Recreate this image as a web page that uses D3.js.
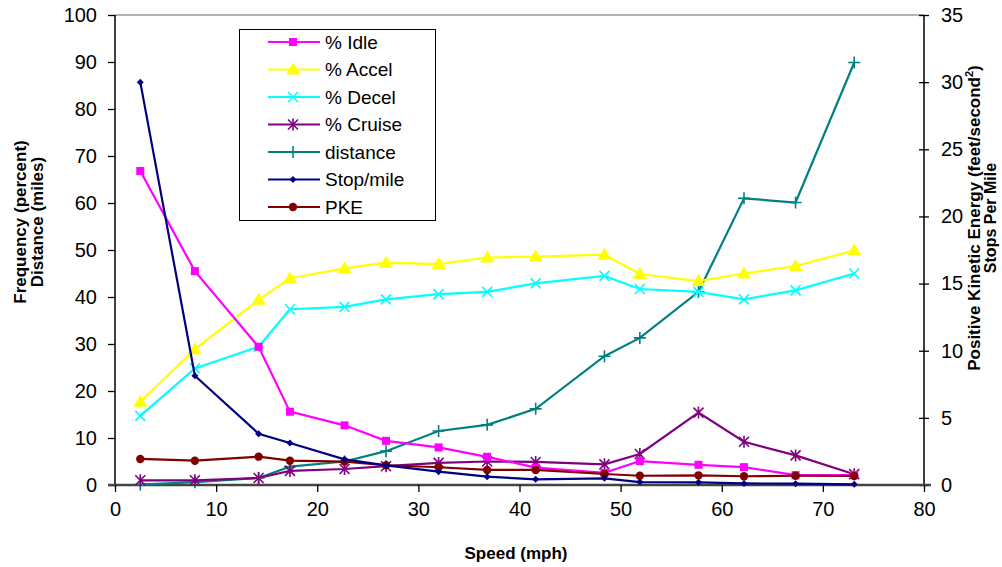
<!DOCTYPE html>
<html><head><meta charset="utf-8">
<script src="https://cdn.jsdelivr.net/npm/d3@7"></script>
<style>body{margin:0;background:#fff}svg{display:block}text{font-family:"Liberation Sans",Arial,sans-serif}</style>
</head><body><svg id="c" width="1002" height="567"></svg>
<script>
const speed   = [2.5, 7.9, 14.2, 17.3, 22.7, 26.8, 32.0, 36.8, 41.6, 48.4, 51.9, 57.7, 62.2, 67.3, 73.1];
const idle    = [66.8, 45.5, 29.4, 15.6, 12.7, 9.4, 8.0, 6.0, 3.7, 2.6, 5.1, 4.3, 3.8, 2.1, 2.1];
const accel   = [17.7, 28.9, 39.4, 44.0, 46.1, 47.3, 47.0, 48.4, 48.6, 49.0, 44.9, 43.4, 45.0, 46.6, 49.9];
const decel   = [14.7, 24.8, 29.4, 37.4, 37.9, 39.5, 40.6, 41.1, 42.9, 44.5, 41.7, 41.1, 39.5, 41.4, 45.0];
const cruise  = [1.0, 1.0, 1.5, 3.0, 3.4, 4.0, 4.7, 5.0, 4.9, 4.4, 6.6, 15.4, 9.2, 6.3, 2.3];
const distance= [0.1, 0.6, 1.5, 3.9, 5.0, 7.2, 11.5, 12.8, 16.2, 27.4, 31.3, 41.1, 61.0, 60.1, 89.9];
const stops   = [30.0, 8.14, 3.82, 3.13, 1.91, 1.46, 0.99, 0.62, 0.42, 0.5, 0.22, 0.2, 0.12, 0.1, 0.05];
const pke     = [1.94, 1.81, 2.11, 1.81, 1.74, 1.47, 1.32, 1.12, 1.12, 0.82, 0.69, 0.72, 0.65, 0.69, 0.67];
const xTicks = [0,10,20,30,40,50,60,70,80];
const yLeftTicks = [0,10,20,30,40,50,60,70,80,90,100];
const yRightTicks = [0,5,10,15,20,25,30,35];

const series = [
  {name:"% Idle", vals:idle, axis:"L", color:"#FF00FF", marker:"square"},
  {name:"% Accel", vals:accel, axis:"L", color:"#FFFF00", marker:"triangle"},
  {name:"% Decel", vals:decel, axis:"L", color:"#00FFFF", marker:"x"},
  {name:"% Cruise", vals:cruise, axis:"L", color:"#800080", marker:"star"},
  {name:"distance", vals:distance, axis:"L", color:"#008080", marker:"plus"},
  {name:"Stop/mile", vals:stops, axis:"R", color:"#000080", marker:"diamond"},
  {name:"PKE", vals:pke, axis:"R", color:"#800000", marker:"circle"}
];

const svg = d3.select("#c");
const L=115, R=924, T=15, B=485;
const x = d3.scaleLinear().domain([0,80]).range([L,R]);
const yL = d3.scaleLinear().domain([0,100]).range([B,T]);
const yR = d3.scaleLinear().domain([0,35]).range([B,T]);

svg.append("line").attr("x1",L).attr("x2",R).attr("y1",T).attr("y2",T).attr("stroke","#999").attr("stroke-width",1.5);

const gL = svg.append("g").attr("transform",`translate(${L},0)`)
  .call(d3.axisLeft(yL).tickValues(yLeftTicks).tickSize(7).tickPadding(11));
const gR = svg.append("g").attr("transform",`translate(${R},0)`)
  .call(d3.axisRight(yR).tickValues(yRightTicks).tickSize(5).tickPadding(12));
gR.selectAll(".tick line").attr("x1",-5);
const gX = svg.append("g").attr("transform",`translate(0,${B})`)
  .call(d3.axisBottom(x).tickValues(xTicks).tickSize(7).tickPadding(10));
[gL,gR,gX].forEach(g=>{
  g.selectAll("text").attr("font-size",20).attr("fill","#000").attr("font-family","Liberation Sans, Arial, sans-serif");
  g.selectAll("line").attr("stroke","#000").attr("stroke-width",1.3);
  g.select(".domain").attr("stroke","#000").attr("stroke-width",1.5);
});
gX.select(".domain").attr("stroke","#444").attr("stroke-width",2.5);
gX.select(".domain").attr("d",`M${L-7},0H${R+7}`);
gL.select(".domain").attr("d",`M0,${yL(100)}V${yL(0)}`);
gR.select(".domain").attr("d",`M0,${yR(35)}V${yR(0)}`);

function drawMarker(g, type, color){
  switch(type){
    case "square": g.append("rect").attr("x",-4).attr("y",-4).attr("width",8).attr("height",8).attr("fill",color); break;
    case "triangle": g.append("path").attr("d","M0,-7L7,5L-7,5Z").attr("fill",color); break;
    case "x": g.append("path").attr("d","M-5,-5L5,5M-5,5L5,-5").attr("stroke",color).attr("stroke-width",1.6).attr("fill","none"); break;
    case "star": g.append("path").attr("d","M-5,-5L5,5M-5,5L5,-5M0,-6V6").attr("stroke",color).attr("stroke-width",1.6).attr("fill","none"); break;
    case "plus": g.append("path").attr("d","M-6,0H6M0,-6V6").attr("stroke",color).attr("stroke-width",1.6).attr("fill","none"); break;
    case "diamond": g.append("path").attr("d","M0,-3.5L3.5,0L0,3.5L-3.5,0Z").attr("fill",color); break;
    case "circle": g.append("circle").attr("r",4.2).attr("fill",color); break;
  }
}

const order = [4,1,2,3,0,6,5];
order.forEach(i=>{
  const s = series[i];
  const ys = s.axis==="L"?yL:yR;
  const line = d3.line().x((d,j)=>x(speed[j])).y(d=>ys(d));
  svg.append("path").datum(s.vals).attr("d",line).attr("fill","none").attr("stroke",s.color).attr("stroke-width",2.2);
  s.vals.forEach((v,j)=>{
    const g = svg.append("g").attr("transform",`translate(${x(speed[j])},${ys(v)})`);
    drawMarker(g,s.marker,s.color);
  });
});

const lg = svg.append("g");
lg.append("rect").attr("x",239.5).attr("y",29.5).attr("width",196).attr("height",191).attr("fill","#fff").attr("stroke","#000").attr("stroke-width",1);
series.forEach((s,i)=>{
  const yy = 42 + i*27.5;
  lg.append("line").attr("x1",268).attr("x2",320).attr("y1",yy).attr("y2",yy).attr("stroke",s.color).attr("stroke-width",2.2);
  const g = lg.append("g").attr("transform",`translate(293,${yy})`);
  drawMarker(g,s.marker,s.color);
  lg.append("text").attr("x",325).attr("y",yy).attr("dy","0.36em").attr("font-size",19).text(s.name);
});

svg.append("text").attr("transform","translate(26,222) rotate(-90)").attr("text-anchor","middle").attr("font-size",17).attr("font-weight","bold").text("Frequency (percent)");
svg.append("text").attr("transform","translate(43,222) rotate(-90)").attr("text-anchor","middle").attr("font-size",17).attr("font-weight","bold").text("Distance (miles)");
const rt = svg.append("text").attr("transform","translate(980,218) rotate(-90)").attr("text-anchor","middle").attr("font-size",17).attr("font-weight","bold");
rt.append("tspan").text("Positive Kinetic Energy (feet/second");
rt.append("tspan").attr("font-size",11).attr("dy",-7).text("2");
rt.append("tspan").attr("dy",7).text(")");
svg.append("text").attr("transform","translate(996,218) rotate(-90)").attr("text-anchor","middle").attr("font-size",16).attr("font-weight","bold").text("Stops Per Mile");
svg.append("text").attr("x",516).attr("y",559).attr("text-anchor","middle").attr("font-size",17).attr("font-weight","bold").text("Speed (mph)");
</script></body></html>
